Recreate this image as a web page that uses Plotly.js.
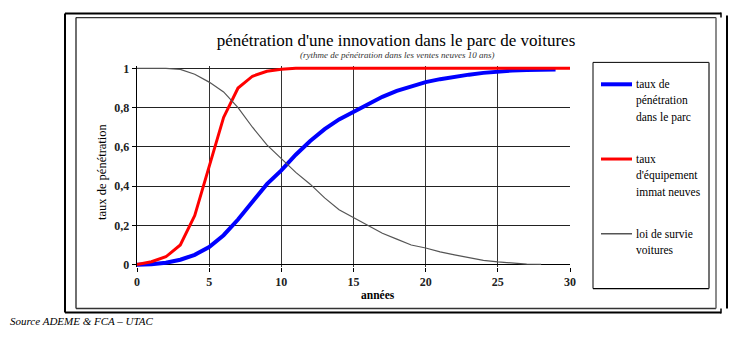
<!DOCTYPE html>
<html>
<head>
<meta charset="utf-8">
<script src="https://cdn.plot.ly/plotly-3.0.1.min.js"></script>
<style>
  html, body { margin: 0; padding: 0; background: #fff; }
  #chart { width: 750px; height: 341px; }
</style>
</head>
<body>
<div id="chart"></div>
<script>
// ---- data ----
const years = [0,1,2,3,4,5,6,7,8,9,10,11,12,13,14,15,16,17,18,19,20,21,22,23,24,25,26,27,28,29,30];

const parcRate = [0,0.002,0.01,0.025,0.05,0.09,0.15,0.23,0.32,0.41,0.48,0.56,0.63,0.69,0.74,0.78,0.82,0.855,0.885,0.91,0.93,0.945,0.958,0.968,0.977,0.984,0.989,0.992,0.993,0.994];

const neufRate = [0,0.015,0.04,0.1,0.25,0.5,0.75,0.9,0.96,0.985,0.995,1,1,1,1,1,1,1,1,1,1,1,1,1,1,1,1,1,1,1,1];

const survie = [1,1,1,0.995,0.97,0.93,0.88,0.8,0.7,0.61,0.54,0.47,0.41,0.34,0.28,0.24,0.2,0.16,0.13,0.1,0.085,0.065,0.05,0.035,0.022,0.014,0.007,0.003,0.001];

const seriesNames = ["taux de pénétration dans le parc", "taux d'équipement immat neuves", "loi de survie voitures"];
const legendLines = [
  ["taux de", "pénétration", "dans le parc"],
  ["taux", "d'équipement", "immat neuves"],
  ["loi de survie", "voitures"]
];
const xTickVals = [0,5,10,15,20,25,30];
const xTickText = ["0","5","10","15","20","25","30"];
const yTickVals = [0,0.2,0.4,0.6,0.8,1];
const yTickText = ["0","0,2","0,4","0,6","0,8","1"];

const titleText = "pénétration d'une innovation dans le parc de voitures";
const subtitleText = "(rythme de pénétration dans les ventes neuves 10 ans)";
const xTitle = "années";
const yTitle = "taux de pénétration";
const sourceText = "Source ADEME &amp; FCA – UTAC";

// ---- layout geometry (pixels) ----
const W = 750, H = 341;
const X0 = 137, X1 = 570, Y0 = 265, Y1 = 68;  // plot area for x 0..30, y 0..1
const YPAD = 0.012;
const unitY = (Y0 - Y1);
const px = x => (x - X0) / (X1 - X0);
const py = y => (Y0 - y + YPAD * unitY) / (unitY * (1 + 2 * YPAD));

const serif = "'Liberation Serif', 'DejaVu Serif', serif";
const colors = ["#0000ff", "#ff0000", "#555555"];
const widths = [4, 3, 1.2];

const traces = [
  {x: years.slice(0, parcRate.length), y: parcRate, name: seriesNames[0]},
  {x: years.slice(0, neufRate.length), y: neufRate, name: seriesNames[1]},
  {x: years.slice(0, survie.length), y: survie, name: seriesNames[2]}
].map((t, i) => Object.assign(t, {
  type: 'scatter', mode: 'lines',
  line: {color: colors[i], width: widths[i]},
  showlegend: false, hoverinfo: 'skip'
}));

const shapes = [];
const annotations = [];
function pline(x0, y0, x1, y1, color, width) {
  shapes.push({type: 'line', xref: 'paper', yref: 'paper',
    x0: px(x0), y0: py(y0), x1: px(x1), y1: py(y1),
    line: {color: color, width: width}, layer: 'above'});
}
// outer frame
pline(65, 13, 721, 13, '#000', 2);
pline(65, 13, 65, 313, '#000', 2);
pline(65, 313, 721, 313, '#000', 2);
pline(721, 12, 721, 17, '#000', 1.5);
pline(721, 309, 721, 314, '#000', 1.5);
pline(727, 15, 727, 309, '#000', 2);
// inner frame
pline(76, 17, 716, 17, '#333', 1.3);
pline(76, 17, 76, 309, '#222', 1.3);
pline(76, 309, 716, 309, '#333', 1.3);
pline(716, 17, 716, 309, '#666', 1.5);
// legend box
pline(593, 62, 709, 62, '#000', 1);
pline(593, 62, 593, 289, '#000', 1);
pline(593, 289, 709, 289, '#000', 1.3);
pline(709, 62, 709, 289, '#444', 1.5);

// legend samples + labels
const legY = [84, 159, 234];
const lineGap = 16.5;
legendLines.forEach((lines, i) => {
  pline(601, legY[i], 632, legY[i], colors[i], widths[i] === 1.2 ? 1.5 : widths[i]);
  lines.forEach((txt, j) => {
    annotations.push({xref: 'paper', yref: 'paper', x: px(634), y: py(legY[i] + j * lineGap),
      xanchor: 'left', yanchor: 'middle', showarrow: false, text: txt,
      font: {family: serif, size: 11.5, color: '#000'}});
  });
});

// subtitle
annotations.push({xref: 'paper', yref: 'paper', x: px(397), y: py(55), xanchor: 'center', yanchor: 'middle',
  showarrow: false, text: '<i>' + subtitleText + '</i>', font: {family: serif, size: 9, color: '#333'}});
// x axis title
annotations.push({xref: 'paper', yref: 'paper', x: px(378), y: py(295), xanchor: 'center', yanchor: 'middle',
  showarrow: false, text: '<b>' + xTitle + '</b>', font: {family: serif, size: 11.5, color: '#000'}});
// y axis title
annotations.push({xref: 'paper', yref: 'paper', x: px(102), y: py(172), xanchor: 'center', yanchor: 'middle',
  textangle: -90, showarrow: false, text: yTitle, font: {family: serif, size: 12.5, color: '#000'}});
// source
annotations.push({xref: 'paper', yref: 'paper', x: px(8), y: py(322), xanchor: 'left', yanchor: 'middle',
  showarrow: false, text: '<i>' + sourceText + '</i>', font: {family: serif, size: 11, color: '#000'}});

const layout = {
  width: W, height: H,
  margin: {l: X0, r: W - X1, t: Y1 - YPAD * unitY, b: H - Y0 - YPAD * unitY, pad: 0},
  paper_bgcolor: '#fff', plot_bgcolor: '#fff',
  showlegend: false,
  title: {text: titleText, x: 396 / W, xanchor: 'center', y: 1 - 40 / H, yanchor: 'middle',
    xref: 'container', yref: 'container', font: {family: serif, size: 17, color: '#000'}},
  xaxis: {range: [0, 30], tickvals: xTickVals, ticktext: xTickText, showgrid: true,
    gridcolor: '#333', gridwidth: 1, zeroline: false, showline: false,
    ticks: 'outside', ticklen: 4, tickcolor: '#000', tickwidth: 1,
    tickfont: {family: serif, size: 12, color: '#222', weight: 'bold'}, fixedrange: true},
  yaxis: {range: [-YPAD, 1 + YPAD], tickvals: yTickVals, ticktext: yTickText, showgrid: true,
    gridcolor: '#222', gridwidth: 1, zeroline: true, zerolinecolor: '#000', zerolinewidth: 1.3,
    showline: true, linecolor: '#000', linewidth: 1.3, mirror: false,
    ticks: 'outside', ticklen: 4, tickcolor: '#000', tickwidth: 1,
    tickfont: {family: serif, size: 12, color: '#222', weight: 'bold'}, fixedrange: true},
  shapes: shapes,
  annotations: annotations,
  font: {family: serif}
};

Plotly.newPlot('chart', traces, layout, {staticPlot: true, displayModeBar: false});
</script>
</body>
</html>
